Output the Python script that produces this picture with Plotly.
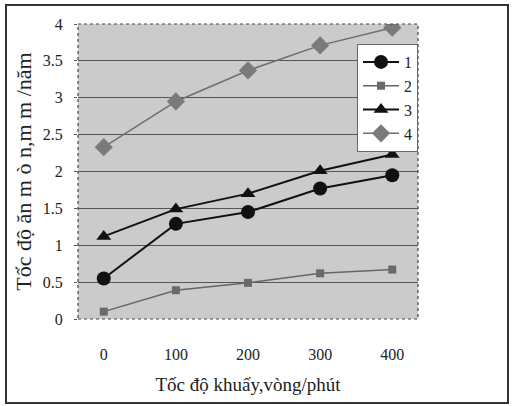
import plotly.graph_objects as go

speeds = ["0", "100", "200", "300", "400"]
s1 = [0.55, 1.29, 1.45, 1.77, 1.95]
s2 = [0.10, 0.39, 0.49, 0.62, 0.67]
s3 = [1.12, 1.49, 1.70, 2.01, 2.23]
s4 = [2.33, 2.95, 3.37, 3.71, 3.95]
names = ["1", "2", "3", "4"]

FONT = "Liberation Serif"
L, R, T, B = 78, 418, 24, 319
W, H = 512, 406

fig = go.Figure()
styles = [
    dict(color="#111111", lw=2, sym="circle", size=14, mc="#111111"),
    dict(color="#666666", lw=1.5, sym="square", size=8, mc="#6a6a6a"),
    dict(color="#111111", lw=2, sym="triangle-up", size=13, mc="#111111"),
    dict(color="#6e6e6e", lw=1.5, sym="diamond", size=14, mc="#7a7a7a"),
]
for name, vals, st in zip(names, [s1, s2, s3, s4], styles):
    fig.add_trace(go.Scatter(
        x=speeds, y=vals, name=name, mode="lines+markers",
        line=dict(color=st["color"], width=st["lw"]),
        marker=dict(symbol=st["sym"], size=st["size"], color=st["mc"],
                    line=dict(width=0)),
    ))

px = lambda x: (x - L) / (R - L)
py = lambda y: (B - y) / (B - T)

fig.update_layout(
    width=W, height=H,
    margin=dict(l=L, r=W - R, t=T, b=H - B, pad=0),
    paper_bgcolor="white",
    plot_bgcolor="#cbcbcb",
    font=dict(family=FONT, size=16, color="#222222"),
    showlegend=True,
    legend=dict(
        x=1, xanchor="right", y=py(44), yanchor="top",
        bgcolor="white", bordercolor="#666666", borderwidth=1,
        font=dict(family=FONT, size=16, color="#222222"),
        itemwidth=36, tracegroupgap=0,
    ),
    xaxis=dict(
        type="category", showgrid=False, zeroline=False,
        ticks="", ticklabelstandoff=24,
        tickfont=dict(family=FONT, size=16),
        title=dict(text="Tốc độ khuấy,vòng/phút", standoff=15,
                   font=dict(family=FONT, size=19)),
        showline=False,
    ),
    yaxis=dict(
        range=[0, 4], dtick=0.5, tick0=0,
        showgrid=True, gridcolor="#555555", gridwidth=1,
        zeroline=False, ticks="outside", ticklen=3, tickcolor="#555555",
        tickfont=dict(family=FONT, size=16),
        ticklabelstandoff=8,
        title=dict(text="Tốc độ ăn m ò n,m m /năm", standoff=5,
                   font=dict(family=FONT, size=22)),
        showline=False,
    ),
    shapes=[
        dict(type="rect", xref="paper", yref="paper", x0=0, x1=1, y0=0, y1=1,
             line=dict(color="#444444", width=1.2, dash="dot"), layer="above"),
        dict(type="rect", xref="paper", yref="paper",
             x0=px(6), x1=px(508), y0=py(403), y1=py(5),
             line=dict(color="#333333", width=2)),
    ],
)

fig.write_html(
    "out.html",
    config={"displayModeBar": False},
    post_script="document.body.style.margin='0';document.body.style.overflow='hidden';",
)
